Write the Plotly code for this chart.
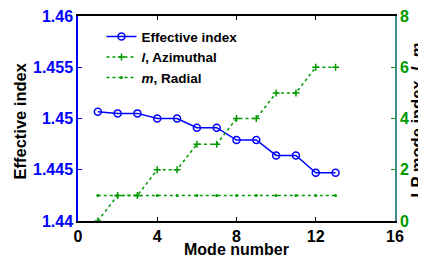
import plotly.graph_objects as go

mode_number = [1, 2, 3, 4, 5, 6, 7, 8, 9, 10, 11, 12, 13]
effective_index = [1.45066, 1.4505, 1.4505, 1.4500, 1.4500, 1.4491, 1.4491,
                   1.4479, 1.4479, 1.4464, 1.4464, 1.4447, 1.4447]
l_azimuthal = [0, 1, 1, 2, 2, 3, 3, 4, 4, 5, 5, 6, 6]
m_radial = [1, 1, 1, 1, 1, 1, 1, 1, 1, 1, 1, 1, 1]

BLUE = "#0000FF"
GREEN = "#009A00"
FONT = "Liberation Sans"

fig = go.Figure()
fig.add_trace(go.Scatter(
    x=mode_number, y=effective_index, name="Effective index",
    mode="lines+markers",
    line=dict(color=BLUE, width=1.5),
    marker=dict(symbol="circle-open", size=7, color=BLUE, line=dict(width=1.5)),
))
fig.add_trace(go.Scatter(
    x=mode_number, y=l_azimuthal, name="<i>l</i>, Azimuthal", yaxis="y2",
    mode="lines+markers",
    line=dict(color=GREEN, width=1.5, dash="dot"),
    marker=dict(symbol="cross-thin-open", size=5, color=GREEN, line=dict(width=1.5, color=GREEN)),
))
fig.add_trace(go.Scatter(
    x=mode_number, y=m_radial, name="<i>m</i>, Radial", yaxis="y2",
    mode="lines+markers",
    line=dict(color=GREEN, width=1.5, dash="dot"),
    marker=dict(symbol="circle", size=3, color=GREEN),
))

fig.update_layout(
    width=418, height=249,
    margin=dict(l=70, r=31, t=8, b=36),
    paper_bgcolor="white", plot_bgcolor="white",
    font=dict(family=FONT, size=15, color="black"),
    showlegend=True,
    legend=dict(
        x=0.074, y=0.975, xanchor="left", yanchor="top",
        bgcolor="rgba(0,0,0,0)",
        font=dict(family=FONT, size=13.5, color="black", weight="bold"),
        tracegroupgap=0, itemwidth=30,
    ),
    xaxis=dict(
        range=[0, 16], tickvals=[0, 4, 8, 12, 16], automargin=False,
        ticklabeloverflow="allow",
        showgrid=False, zeroline=False,
        showline=True, linecolor="black", linewidth=1.5, mirror="ticks",
        ticks="inside", ticklen=4, tickcolor="black",
        tickfont=dict(family=FONT, size=16, color="black", weight="bold"),
    ),
    yaxis=dict(
        range=[1.44, 1.46], tickvals=[1.44, 1.445, 1.45, 1.455, 1.46],
        ticktext=["1.44", "1.445", "1.45", "1.455", "1.46"], automargin=False,
        ticklabeloverflow="allow",
        showgrid=False, zeroline=False,
        showline=True, linecolor=BLUE, linewidth=1.5,
        ticks="inside", ticklen=4, tickcolor=BLUE,
        tickfont=dict(family=FONT, size=16, color=BLUE, weight="bold"),
    ),
    yaxis2=dict(
        range=[0, 8], tickvals=[0, 2, 4, 6, 8], automargin=False,
        ticklabeloverflow="allow",
        overlaying="y", side="right",
        showgrid=False, zeroline=False,
        showline=True, linecolor="#3F8C86", linewidth=1.5,
        ticks="inside", ticklen=4, tickcolor=GREEN,
        tickfont=dict(family=FONT, size=16, color=GREEN, weight="bold"),
    ),
    annotations=[
        dict(text="<b>Mode number</b>", xref="paper", yref="paper", x=0.5, y=0,
             yshift=-28, xanchor="center", yanchor="middle", showarrow=False,
             font=dict(family=FONT, size=16, color="black")),
        dict(text="<b>Effective index</b>", xref="paper", yref="paper", x=0, y=0.5,
             xshift=-59, yshift=-3, textangle=-90, xanchor="center", yanchor="middle", showarrow=False,
             font=dict(family=FONT, size=16.5, color="black")),
        dict(text="<b>LP mode index, <i>l</i>, <i>m</i></b>", xref="paper", yref="paper", x=1, y=0.5,
             xshift=21, yshift=-2, textangle=-90, xanchor="center", yanchor="middle", showarrow=False,
             font=dict(family=FONT, size=16.5, color="black")),
    ],
)

fig.write_html("out.html")
